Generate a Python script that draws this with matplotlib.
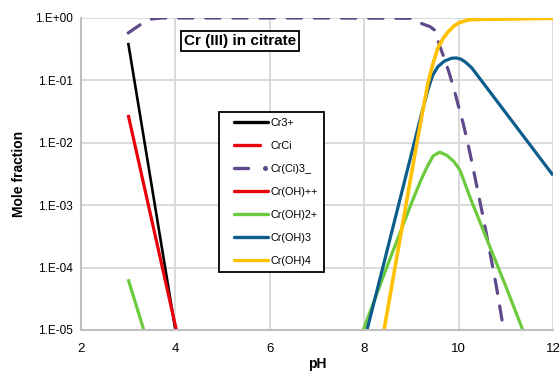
import matplotlib
matplotlib.use("Agg")
import matplotlib.pyplot as plt
from matplotlib.lines import Line2D
from matplotlib.legend_handler import HandlerBase
import numpy as np

plt.rcParams['font.family'] = ['Liberation Sans', 'DejaVu Sans']

# ---- data ----
cr3_ph = [3.0, 4.0]
cr3_val = [0.4, 1e-5]

crci_ph = []
crci_val = []

crci3_ph = [3.0, 3.25, 3.5, 3.7, 5.0, 7.0, 9.0, 9.1, 9.22, 9.4, 9.5, 9.6, 9.7, 9.8, 9.9,
            10.0, 10.1, 10.2, 10.3, 10.4, 10.5, 10.6, 10.7, 10.8, 10.92]
crci3_log = [-0.24, -0.11, -0.015, 0.0, 0.0, 0.0, -0.005, -0.03, -0.09, -0.14, -0.2, -0.45,
             -0.65, -0.88, -1.13, -1.42, -1.7, -2.02, -2.38, -2.75, -3.12, -3.5, -3.9, -4.3, -4.84]

crohpp_ph = [3.0, 4.02]
crohpp_val = [0.028, 1e-5]

croh2_ph_a = [3.0, 3.33]
croh2_val_a = [6.5e-5, 1e-5]
croh2_ph_b = [7.98, 8.5, 9.0, 9.2, 9.33, 9.46, 9.6, 9.75, 9.9, 10.03, 10.24, 10.5, 11.0, 11.36]
croh2_log_b = [-5.0, -3.95, -2.97, -2.6, -2.39, -2.21, -2.15, -2.2, -2.3, -2.44, -2.87, -3.36, -4.3, -5.0]

croh3_ph = [8.06, 9.0, 9.2, 9.35, 9.45, 9.56, 9.7, 9.85, 9.95, 10.05, 10.15, 10.28, 11.0, 12.0]
croh3_log = [-5.0, -2.18, -1.58, -1.15, -0.92, -0.78, -0.69, -0.645, -0.64, -0.66, -0.71, -0.8, -1.52, -2.52]

croh4_ph = [8.42, 9.0, 9.2, 9.35, 9.45, 9.56, 9.67, 9.78, 9.9, 10.0, 10.2, 10.56, 12.0]
croh4_log = [-5.0, -2.5, -1.65, -1.05, -0.75, -0.48, -0.33, -0.22, -0.13, -0.08, -0.03, -0.02, -0.005]

x_ticks = [2, 4, 6, 8, 10, 12]
y_ticks = [1e-5, 1e-4, 1e-3, 1e-2, 1e-1, 1e0]
y_ticklabels = ["1.E-05", "1.E-04", "1.E-03", "1.E-02", "1.E-01", "1.E+00"]


class SegHandler(HandlerBase):
    """Legend handle drawn as line segments (fractions of the handle width) plus optional dot."""
    def __init__(self, segs, dot=None):
        super().__init__()
        self.segs = segs
        self.dot = dot

    def create_artists(self, legend, orig_handle, xdescent, ydescent, width, height,
                       fontsize, trans):
        y = height / 2 - ydescent
        x0 = -xdescent
        arts = []
        for a, b in self.segs:
            ln = Line2D([x0 + a * width, x0 + b * width], [y, y],
                        color=orig_handle.get_color(), lw=2.4,
                        solid_capstyle='round')
            ln.set_transform(trans)
            arts.append(ln)
        if self.dot is not None:
            d = Line2D([x0 + self.dot * width], [y], marker='o', markersize=2.6, ls='none',
                       color=orig_handle.get_color())
            d.set_transform(trans)
            arts.append(d)
        return arts


# ---- figure ----
fig = plt.figure(figsize=(5.6, 3.76), dpi=100)
ax = fig.add_axes([81/560, 1-330/376, (553-81)/560, (330-18)/376])

c_black = '#000000'
c_red = '#E8000B'
c_purple = '#5E4A8A'
c_green = '#6CCB3C'
c_blue = '#0C5C8E'
c_yellow = '#FFC000'

lw = 2.3
kw = dict(solid_joinstyle='round', solid_capstyle='butt')
l1, = ax.plot(cr3_ph, cr3_val, color=c_black, lw=1.9, label='Cr3+', **kw)
l2, = ax.plot(crci_ph, crci_val, color=c_red, lw=lw, label='CrCi', **kw)
l3, = ax.plot(crci3_ph, 10**np.array(crci3_log), color=c_purple, lw=lw, ls=(0, (4.5, 4.0)),
              dash_capstyle='round', dash_joinstyle='round', label='Cr(Ci)3_')
l4, = ax.plot(crohpp_ph, crohpp_val, color=c_red, lw=lw, label='Cr(OH)++', **kw)
l5, = ax.plot(croh2_ph_b, 10**np.array(croh2_log_b), color=c_green, lw=lw, label='Cr(OH)2+', **kw)
ax.plot(croh2_ph_a, croh2_val_a, color=c_green, lw=lw, **kw)
l6, = ax.plot(croh3_ph, 10**np.array(croh3_log), color=c_blue, lw=lw, label='Cr(OH)3', **kw)
l7, = ax.plot(croh4_ph, 10**np.array(croh4_log), color=c_yellow, lw=lw + 0.3, label='Cr(OH)4', **kw)

ax.set_yscale('log')
ax.set_xlim(2, 12)
ax.set_ylim(1e-5, 1.0)
ax.set_xticks(x_ticks)
ax.set_xticklabels([str(t) for t in x_ticks], fontsize=9.5)
ax.set_yticks(y_ticks)
ax.set_yticklabels(y_ticklabels, fontsize=8.5)
ax.yaxis.set_minor_locator(matplotlib.ticker.NullLocator())
ax.tick_params(axis='both', length=0)
ax.tick_params(axis='x', pad=9)
ax.tick_params(axis='y', pad=6)

ax.grid(True, color='#D9D9D9', lw=1.4)
ax.set_axisbelow(True)
for s in ['top', 'right']:
    ax.spines[s].set_visible(False)
for s in ['left', 'bottom']:
    ax.spines[s].set_color('#BFBFBF')
    ax.spines[s].set_linewidth(1.5)

ax.set_xlabel('pH', fontsize=10, fontweight='bold', labelpad=2)
ax.set_ylabel('Mole fraction', fontsize=10, fontweight='bold', labelpad=6)

ax.text((180-81)/472 + 0.008, (330-41)/312, 'Cr (III) in citrate', transform=ax.transAxes,
        fontsize=11, fontweight='bold', va='center', ha='left',
        bbox=dict(boxstyle='square,pad=0.2', fc='white', ec='black', lw=1.3))

full = SegHandler([(0.2, 0.98)])
hmap = {
    l1: full,
    l2: SegHandler([(0.2, 0.8)]),
    l3: SegHandler([(0.2, 0.52)], dot=0.9),
    l4: full, l5: full, l6: full, l7: full,
}
leg = ax.legend(handles=[l1, l2, l3, l4, l5, l6, l7], loc='upper left',
                bbox_to_anchor=((219-81)/472, (330-112)/312), handler_map=hmap,
                fontsize=7.8, frameon=True, fancybox=False, edgecolor='black',
                framealpha=1, handlelength=4.1, handletextpad=0.1,
                labelspacing=1.2, borderpad=0.55, borderaxespad=0)
leg.get_frame().set_linewidth(1.3)

fig.savefig('out.png', dpi=100)
